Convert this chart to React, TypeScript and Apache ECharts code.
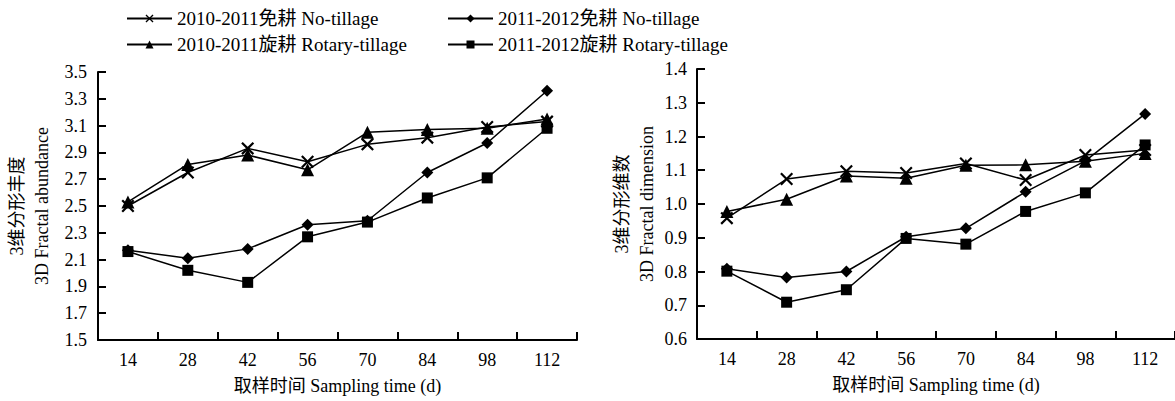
import React, { useEffect, useRef } from "react";
import * as echarts from "echarts";

const categories = ["14", "28", "42", "56", "70", "84", "98", "112"];

const seriesNames = [
  "2010-2011免耕 No-tillage",
  "2011-2012免耕 No-tillage",
  "2010-2011旋耕 Rotary-tillage",
  "2011-2012旋耕 Rotary-tillage",
];

// 3D Fractal abundance
const abundNT1011 = [2.5, 2.75, 2.93, 2.83, 2.96, 3.01, 3.09, 3.13];
const abundNT1112 = [2.17, 2.11, 2.18, 2.36, 2.39, 2.75, 2.97, 3.36];
const abundRT1011 = [2.53, 2.81, 2.88, 2.77, 3.05, 3.07, 3.08, 3.15];
const abundRT1112 = [2.16, 2.02, 1.93, 2.27, 2.38, 2.56, 2.71, 3.08];

// 3D Fractal dimension
const dimNT1011 = [0.958, 1.074, 1.097, 1.092, 1.12, 1.071, 1.145, 1.16];
const dimNT1112 = [0.808, 0.782, 0.8, 0.903, 0.928, 1.036, 1.128, 1.267];
const dimRT1011 = [0.978, 1.014, 1.083, 1.076, 1.115, 1.116, 1.127, 1.15];
const dimRT1112 = [0.801, 0.709, 0.746, 0.898, 0.881, 0.978, 1.033, 1.175];

const abundMin = 1.5;
const abundMax = 3.5;
const abundStep = 0.2;
const dimMin = 0.6;
const dimMax = 1.4;
const dimStep = 0.1;

const FONT = "'Liberation Serif', 'Noto Sans CJK SC', serif";
const CROSS =
  "path://M0,1.2L1.2,0L5,3.8L8.8,0L10,1.2L6.2,5L10,8.8L8.8,10L5,6.2L1.2,10L0,8.8L3.8,5Z";
const symbols = [CROSS, "diamond", "triangle", "rect"];
const symbolSizes = [13, 12, 13, 11];

export default function App() {
  const ref = useRef<HTMLDivElement>(null);

  useEffect(() => {
    document.body.style.margin = "0";
    if (!ref.current) return;
    const chart = echarts.init(ref.current, undefined, { renderer: "svg" });

    const abundSets = [abundNT1011, abundNT1112, abundRT1011, abundRT1112];
    const dimSets = [dimNT1011, dimNT1112, dimRT1011, dimRT1112];

    const mkSeries = (data: number[], i: number, grid: number, offset: number) => ({
      name: seriesNames[i],
      type: "line",
      xAxisIndex: grid,
      yAxisIndex: grid,
      data: data.map((v) => +(v - offset).toFixed(4)),
      symbol: symbols[i],
      symbolSize: symbolSizes[i],
      lineStyle: { color: "#000", width: 1.5 },
      itemStyle: { color: "#000" },
      z: 2,
    });

    const tickStyle = { show: true, inside: true, length: 8, lineStyle: { color: "#000000", width: 2 } };

    const xAxis = (gridIndex: number) => ({
      type: "category",
      gridIndex,
      data: categories,
      boundaryGap: true,
      axisLine: { show: true, lineStyle: { color: "#000", width: 2 } },
      axisTick: tickStyle,
      splitLine: { show: false },
      axisLabel: { color: "#000", fontSize: 18, fontFamily: FONT, margin: 11 },
      name: "取样时间 Sampling time (d)",
      nameLocation: "middle",
      nameGap: 37,
      nameTextStyle: { color: "#000", fontSize: 18, fontFamily: FONT },
    });

    const legendItem = (i: number, left: number, top: number) => ({
      data: [seriesNames[i]],
      left,
      top,
      padding: 0,
      itemWidth: 45,
      itemHeight: 10,
      itemGap: 0,
      textStyle: { color: "#000", fontSize: 19, fontFamily: FONT },
    });

    chart.setOption({
      animation: false,
      legend: [
        legendItem(0, 126, 9),
        legendItem(1, 447, 9),
        legendItem(2, 126, 35),
        legendItem(3, 447, 35),
      ],
      grid: [
        { left: 98, top: 72, width: 479, height: 268, containLabel: false, outerBoundsMode: "none" },
        { left: 697, top: 69, width: 478, height: 270, containLabel: false, outerBoundsMode: "none" },
      ],
      xAxis: [xAxis(0), xAxis(1)],
      yAxis: [
        {
          type: "value",
          gridIndex: 0,
          min: 0,
          max: abundMax - abundMin,
          interval: abundStep,
          axisLine: { show: true, lineStyle: { color: "#000", width: 2 } },
          axisTick: tickStyle,
          splitLine: { show: false },
          axisLabel: {
            color: "#000",
            fontSize: 18,
            fontFamily: FONT,
            margin: 11,
            formatter: (v: number) => (v + abundMin).toFixed(1),
          },
          name: "3维分形丰度\n3D Fractal abundance",
          nameLocation: "middle",
          nameRotate: 90,
          nameGap: 44,
          nameTextStyle: { color: "#000", fontSize: 18, fontFamily: FONT, lineHeight: 25 },
        },
        {
          type: "value",
          gridIndex: 1,
          min: dimMin,
          max: dimMax,
          interval: dimStep,
          axisLine: { show: true, lineStyle: { color: "#000", width: 2 } },
          axisTick: tickStyle,
          splitLine: { show: false },
          axisLabel: {
            color: "#000",
            fontSize: 18,
            fontFamily: FONT,
            margin: 10,
            formatter: (v: number) => v.toFixed(1),
          },
          name: "3维分形维数\n3D Fractal dimension",
          nameLocation: "middle",
          nameRotate: 90,
          nameGap: 38,
          nameTextStyle: { color: "#000", fontSize: 18, fontFamily: FONT, lineHeight: 25 },
        },
      ],
      series: [
        ...abundSets.map((d, i) => mkSeries(d, i, 0, abundMin)),
        ...dimSets.map((d, i) => mkSeries(d, i, 1, 0)),
      ],
    });

    return () => chart.dispose();
  }, []);

  return <div ref={ref} style={{ width: 1175, height: 401, background: "#fff" }} />;
}
